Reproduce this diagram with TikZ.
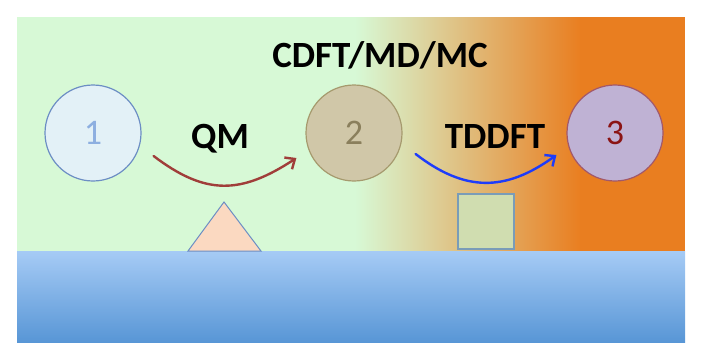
\documentclass[tikz,border=0pt]{standalone}
\usepackage{fontspec}
\setmainfont{Carlito}
\usepackage{tikz}
\usetikzlibrary{arrows.meta,calc}
\definecolor{VerdeFondo}{RGB}{215,249,214}
\definecolor{NaranjaFondo}{RGB}{233,126,32}
\definecolor{AzulClaro}{RGB}{166,203,245}
\definecolor{AzulOscuro}{RGB}{88,150,214}
\definecolor{BordeAzul}{RGB}{108,142,196}
\definecolor{FlechaRoja}{RGB}{160,62,58}
\definecolor{FlechaAzul}{RGB}{30,60,250}
\definecolor{RellenoUno}{RGB}{227,241,247}
\definecolor{TextoUno}{RGB}{141,175,224}
\definecolor{RellenoDos}{RGB}{208,199,168}
\definecolor{BordeDos}{RGB}{166,154,110}
\definecolor{TextoDos}{RGB}{138,127,92}
\definecolor{RellenoTres}{RGB}{191,178,212}
\definecolor{BordeTres}{RGB}{162,88,106}
\definecolor{TextoTres}{RGB}{139,20,20}
\definecolor{RellenoTriangulo}{RGB}{251,217,193}
\definecolor{RellenoCuadro}{RGB}{208,221,176}
\definecolor{BordeCuadro}{RGB}{122,156,184}

\begin{document}
\begin{tikzpicture}[x=1pt,y=-1pt,>={Straight Barb[length=8pt,width=14pt]},
  estado/.style={circle,minimum size=96pt,inner sep=0pt,line width=1.2pt,
    font=\fontsize{36}{42}\selectfont},
  metodo/.style={anchor=base,font=\fontsize{37}{44}\selectfont\bfseries},
  salto/.style={->,line width=2.4pt,line cap=round}]
  \useasboundingbox (0,0) rectangle (703,360);
  % fondo
  \fill[VerdeFondo] (17,17) rectangle (356,251);
  \shade[left color=VerdeFondo,right color=NaranjaFondo] (355,17) rectangle (581,251);
  \fill[NaranjaFondo] (580,17) rectangle (685,251);
  \shade[top color=AzulClaro,bottom color=AzulOscuro] (17,251) rectangle (685,342);
  % estados
  \node[estado,fill=RellenoUno,draw=BordeAzul,text=TextoUno] (uno) at (93,133) {1};
  \node[estado,fill=RellenoDos,draw=BordeDos,text=TextoDos] (dos) at (354,133) {2};
  \node[estado,fill=RellenoTres,draw=BordeTres,text=TextoTres] (tres) at (615,133) {3};
  % metodos
  \node[metodo] (cdft) at (380,67) {CDFT/MD/MC};
  \node[metodo] (qm) at (220,148) {QM};
  \node[metodo] (tddft) at (495,148) {TDDFT};
  % saltos
  \draw[salto,FlechaRoja] ($(uno.east)+(12,23)$) .. controls (205,195) and (240,195) .. ($(dos.west)+(-9,25)$);
  \draw[salto,FlechaAzul] ($(dos.east)+(13,21)$) .. controls (465,192) and (505,192) .. ($(tres.west)+(-10,22)$);
  % triangulo y cuadrado
  \draw[BordeAzul,line width=1pt,fill=RellenoTriangulo]
    (224,202) -- (261,251) -- (188,251) -- cycle;
  \draw[BordeCuadro,line width=1.2pt,fill=RellenoCuadro]
    (458,194) rectangle (514,249);
\end{tikzpicture}
\end{document}
